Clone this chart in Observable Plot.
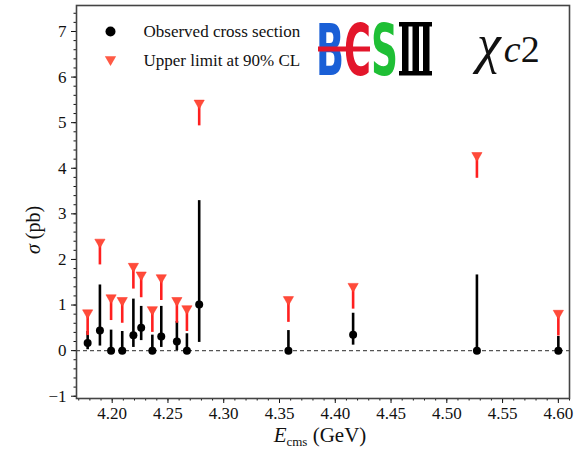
<!DOCTYPE html>
<html>
<head>
<meta charset="utf-8">
<script src="https://cdn.jsdelivr.net/npm/d3@7"></script>
<script src="https://cdn.jsdelivr.net/npm/@observablehq/plot@0.6"></script>
<style>
html,body{margin:0;padding:0;background:#fff;}
</style>
</head>
<body>
<div id="chart"></div>
<script>
// Centre-of-mass energies (GeV)
const energies = [4.178, 4.189, 4.199, 4.209, 4.219, 4.226, 4.236, 4.244, 4.258, 4.267, 4.278, 4.358, 4.416, 4.527, 4.600];
// Observed cross section (pb) and its error range
const sigma   = [0.17, 0.44, 0, 0, 0.34, 0.50, 0, 0.31, 0.20, 0, 1.01, 0, 0.35, 0, 0];
const errLow  = [0.02, 0.10, 0, 0, 0.07, 0.22, 0, 0.07, 0, 0, 0.18, 0, 0.12, 0, 0];
const errHigh = [0.42, 1.44, 0.45, 0.42, 1.13, 0.97, 0.34, 0.97, 0.64, 0.37, 3.29, 0.44, 0.82, 1.66, 0.31];
// Upper limit at 90% CL (pb)
const upperLimit = [0.83, 2.38, 1.16, 1.10, 1.85, 1.66, 0.90, 1.60, 1.10, 0.92, 5.43, 1.12, 1.41, 4.28, 0.82];
// Ticks
const xTicks = [4.20, 4.25, 4.30, 4.35, 4.40, 4.45, 4.50, 4.55, 4.60];
const yTicks = [-1, 0, 1, 2, 3, 4, 5, 6, 7];
const legendLabels = ["Observed cross section", "Upper limit at 90% CL"];

const ulArrowLen = 0.5;
const data = energies.map((E, i) => ({E, sig: sigma[i], lo: errLow[i], hi: errHigh[i], ul: upperLimit[i]}));
const xMinor = d3.range(417, 462).map(v => v / 100);
const yMinor = d3.range(-5, 38).map(v => v / 5);

const serif = "Liberation Serif, DejaVu Serif, serif";
const fmtY = d => d < 0 ? "\u2212" + Math.abs(d) : String(d);

const plot = Plot.plot({
  width: 586,
  height: 449,
  marginLeft: 76,
  marginRight: 17,
  marginTop: 5,
  marginBottom: 51,
  x: {domain: [4.168, 4.610]},
  y: {domain: [-1.05, 7.57]},
  style: {fontFamily: serif, fontSize: "17px", background: "white", color: "#111"},
  marks: [
    Plot.ruleY([0], {stroke: "#555", strokeWidth: 1.3, strokeDasharray: "4,3"}),
    Plot.ruleX(data, {x: "E", y1: "lo", y2: "hi", stroke: "black", strokeWidth: 2.6}),
    Plot.dot(data, {x: "E", y: "sig", r: 4, fill: "black"}),
    Plot.ruleX(data, {x: "E", y1: "ul", y2: d => d.ul - ulArrowLen, stroke: "#ff1f1f", strokeWidth: 2.6}),
    Plot.dot(data, {x: "E", y: "ul", symbol: "triangle", rotate: 180, r: 3.8, fill: "#ff4b3a", stroke: "#ff3020", strokeWidth: 0.5}),
    Plot.axisX({ticks: xTicks, tickFormat: d3.format(".2f"), tickSize: 5, tickPadding: 3, label: null, fontSize: 17}),
    Plot.axisX({ticks: xMinor, tickSize: 2.5, tickFormat: () => "", label: null}),
    Plot.axisY({ticks: yTicks, tickFormat: fmtY, tickSize: 5, tickPadding: 5, label: null, fontSize: 17}),
    Plot.axisY({ticks: yMinor, tickSize: 2.5, tickFormat: () => "", label: null}),
    Plot.frame({stroke: "#444", strokeWidth: 1.6}),
    // legend
    Plot.dot([0], {frameAnchor: "top-left", dx: 34, dy: 26, r: 5, fill: "black"}),
    Plot.text([legendLabels[0]], {frameAnchor: "top-left", dx: 67, dy: 26, text: d => d, textAnchor: "start", lineAnchor: "middle", fontSize: 17, fill: "#111"}),
    Plot.dot([0], {frameAnchor: "top-left", dx: 34, dy: 54, r: 4.2, symbol: "triangle", rotate: 180, fill: "#ff5a45"}),
    Plot.text([legendLabels[1]], {frameAnchor: "top-left", dx: 67, dy: 55, text: d => d, textAnchor: "start", lineAnchor: "middle", fontSize: 17, fill: "#111"})
  ]
});

document.getElementById("chart").appendChild(plot);
const svg = d3.select(plot);

// axis labels
svg.append("text")
  .attr("transform", "translate(40,230) rotate(-90)")
  .attr("text-anchor", "middle")
  .attr("font-family", serif).attr("font-size", 20).attr("fill", "#111")
  .call(t => {
    t.append("tspan").attr("font-style", "italic").text("σ");
    t.append("tspan").text(" (pb)");
  });
svg.append("text")
  .attr("x", 320).attr("y", 442)
  .attr("text-anchor", "middle")
  .attr("font-family", serif).attr("font-size", 21).attr("fill", "#111")
  .call(t => {
    t.append("tspan").attr("font-style", "italic").text("E");
    t.append("tspan").attr("font-size", 13).attr("dy", 4).text("cms");
    t.append("tspan").attr("dy", -4).text(" (GeV)");
  });

// chi_c2 annotation
svg.append("text")
  .attr("x", 477).attr("y", 62)
  .attr("text-anchor", "start")
  .attr("font-family", serif).attr("font-size", 38).attr("fill", "#111")
  .call(t => {
    t.append("tspan").attr("font-style", "italic").attr("font-size", 54).text("χ");
    t.append("tspan").attr("font-style", "italic").attr("dx", 3).text("c");
    t.append("tspan").text("2");
  });

// BESIII logo
const logo = svg.append("g").attr("text-anchor", "start");
const letter = (ch, x, w, color) => {
  const g = logo.append("g");
  const t = g.append("text").attr("x", 0).attr("y", 0)
    .attr("font-family", "DejaVu Sans, sans-serif").attr("font-weight", "bold").attr("font-size", 72)
    .attr("fill", color).text(ch);
  const natural = t.node().getComputedTextLength() || 50;
  g.attr("transform", `translate(${x},75) scale(${w / natural},1)`);
};
letter("B", 316, 28, "#1a5fd6");
letter("C", 344, 27, "#e3162b");
letter("S", 371, 27, "#1fbf35");
logo.append("rect").attr("x", 318).attr("y", 46.5).attr("width", 52).attr("height", 5).attr("fill", "#e3162b");
// III
logo.append("rect").attr("x", 399).attr("y", 22).attr("width", 33).attr("height", 4.5).attr("fill", "#000");
logo.append("rect").attr("x", 399).attr("y", 71).attr("width", 33).attr("height", 4.5).attr("fill", "#000");
[402, 412.5, 423].forEach(x => logo.append("rect").attr("x", x).attr("y", 24).attr("width", 6.5).attr("height", 50).attr("fill", "#000"));
</script>
</body>
</html>
